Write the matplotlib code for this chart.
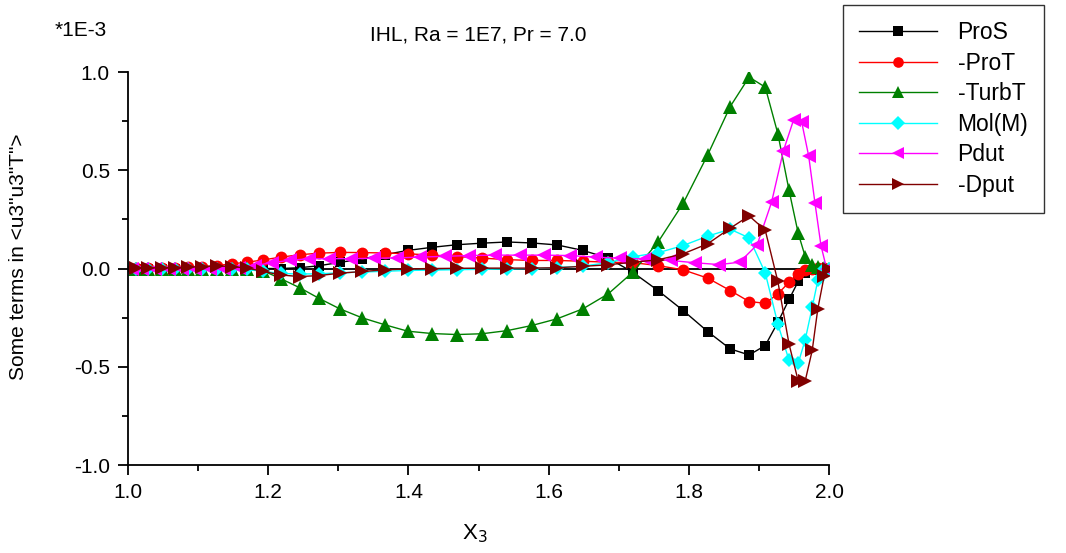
import numpy as np
import matplotlib.pyplot as plt

plt.rcParams['font.family'] = ['Liberation Sans', 'DejaVu Sans']

# grid points in x3 (cell centres), values are in units of 1E-3
x3 = [1.000, 1.011, 1.029, 1.049, 1.067, 1.086, 1.106, 1.127, 1.148, 1.170,
      1.193, 1.218, 1.245, 1.272, 1.302, 1.334, 1.367, 1.399, 1.434, 1.469,
      1.505, 1.541, 1.576, 1.612, 1.649, 1.685, 1.720, 1.756, 1.792, 1.827,
      1.859, 1.886, 1.909, 1.927, 1.943, 1.956, 1.966, 1.976, 1.984, 1.993,
      2.000]

# pressure term sits on the staggered (face) points
x3_face = [1.0055, 1.020, 1.039, 1.058, 1.0765, 1.096, 1.1165, 1.1375, 1.159, 1.1815,
           1.2055, 1.2315, 1.2585, 1.287, 1.318, 1.3505, 1.383, 1.4165, 1.4515, 1.487,
           1.523, 1.5585, 1.594, 1.6305, 1.667, 1.7025, 1.738, 1.774, 1.8095, 1.843,
           1.8725, 1.8975, 1.918, 1.935, 1.9495, 1.961, 1.971, 1.980, 1.9885, 1.9965]

pros = [0.0, 0.0, 0.0, 0.0, 0.0, 0.0, 0.0, 0.0, 0.0, 0.0,
        0.0, 0.0, 0.004, 0.014, 0.031, 0.049, 0.071, 0.092, 0.108, 0.121,
        0.129, 0.135, 0.130, 0.120, 0.092, 0.053, -0.019, -0.112, -0.214, -0.321,
        -0.409, -0.440, -0.392, -0.274, -0.157, -0.066, -0.024, -0.008, 0.0, 0.0,
        0.0]

prot = [0.0, 0.001, 0.002, 0.003, 0.004, 0.006, 0.009, 0.015, 0.024, 0.032,
        0.044, 0.058, 0.070, 0.078, 0.082, 0.081, 0.079, 0.075, 0.068, 0.061,
        0.053, 0.045, 0.041, 0.041, 0.037, 0.032, 0.030, 0.015, -0.007, -0.049,
        -0.112, -0.168, -0.177, -0.129, -0.070, -0.027, -0.007, 0.0, 0.003, 0.002,
        0.0]

turbt = [0.0, 0.0, 0.0, 0.0, 0.0, 0.0, 0.0, 0.0, 0.0, -0.002,
         -0.012, -0.052, -0.098, -0.151, -0.205, -0.251, -0.287, -0.319, -0.331, -0.336,
         -0.332, -0.316, -0.290, -0.256, -0.205, -0.129, -0.019, 0.134, 0.332, 0.579,
         0.824, 0.974, 0.923, 0.686, 0.397, 0.180, 0.061, 0.018, 0.007, 0.004,
         0.0]

mol = [0.0, 0.0, 0.0, 0.0, 0.0, 0.0, 0.0, 0.0, -0.002, -0.005,
       -0.015, -0.025, -0.028, -0.027, -0.022, -0.018, -0.014, -0.010, -0.008, -0.006,
       -0.004, -0.002, 0.0, 0.005, 0.012, 0.030, 0.060, 0.080, 0.117, 0.165,
       0.200, 0.156, -0.022, -0.282, -0.468, -0.482, -0.363, -0.197, -0.061, 0.0,
       0.0]

pdut = [0.0, 0.0, 0.0, 0.0, 0.0, -0.002, -0.003, 0.0, 0.005, 0.015,
        0.030, 0.042, 0.050, 0.050, 0.050, 0.052, 0.054, 0.058, 0.062, 0.066,
        0.068, 0.068, 0.068, 0.066, 0.058, 0.052, 0.049, 0.041, 0.029, 0.020,
        0.032, 0.121, 0.337, 0.600, 0.757, 0.745, 0.572, 0.332, 0.117, 0.0]

dput = [0.0, 0.002, 0.003, 0.004, 0.005, 0.007, 0.010, 0.013, 0.010, 0.002,
        -0.015, -0.033, -0.041, -0.036, -0.024, -0.015, -0.007, -0.002, 0.0, 0.001,
        0.002, 0.002, 0.002, 0.004, 0.011, 0.019, 0.032, 0.044, 0.075, 0.126,
        0.205, 0.268, 0.195, -0.066, -0.385, -0.572, -0.572, -0.417, -0.205, -0.040,
        0.0]

fig = plt.figure(figsize=(10.66, 5.53), dpi=100)
ax = fig.add_axes([0.1201, 0.1591, 0.6576, 0.7107])

# zero line
ax.axhline(0, color='black', lw=1.3, zorder=1)

series = [
    (x3, pros, 'ProS', 'black', 's', 7.5),
    (x3, prot, '-ProT', 'red', 'o', 8.5),
    (x3, turbt, '-TurbT', 'green', '^', 10),
    (x3, mol, 'Mol(M)', 'cyan', 'D', 7.5),
    (x3_face, pdut, 'Pdut', 'magenta', '<', 10),
    (x3, dput, '-Dput', '#800000', '>', 10),
]
for xs, ys, lab, col, mk, ms in series:
    ax.plot(xs, ys, color=col, lw=1, marker=mk, markersize=ms,
            markeredgewidth=0, label=lab, zorder=2)

ax.set_xlim(1.0, 2.0)
ax.set_ylim(-1.0, 1.0)
ax.set_xticks([1.0, 1.2, 1.4, 1.6, 1.8, 2.0])
ax.set_xticks(np.arange(1.1, 2.0, 0.2), minor=True)
ax.set_yticks([-1.0, -0.5, 0.0, 0.5, 1.0])
ax.set_yticks([-0.75, -0.25, 0.25, 0.75], minor=True)
ax.xaxis.set_major_formatter(plt.FormatStrFormatter('%.1f'))
ax.yaxis.set_major_formatter(plt.FormatStrFormatter('%.1f'))
ax.tick_params(which='major', direction='out', length=7, width=1.3, labelsize=15, pad=6)
ax.tick_params(which='minor', direction='out', length=4, width=1.3)

for side in ['top', 'right']:
    ax.spines[side].set_visible(False)
for side in ['left', 'bottom']:
    ax.spines[side].set_linewidth(1.3)

ax.set_xlabel(r'X$_{3}$', fontsize=16)
ax.xaxis.set_label_coords(0.495, -0.145)
ax.set_ylabel('Some terms in <u3"u3"T">', fontsize=15)
ax.yaxis.set_label_coords(-0.143, 0.53)

fig.text(478 / 1066, 1 - 35 / 553, 'IHL, Ra = 1E7, Pr = 7.0',
         ha='center', va='center', fontsize=15)
fig.text(55 / 1066, 1 - 30 / 553, '*1E-3', ha='left', va='center', fontsize=15)

leg = fig.legend(loc='upper left', bbox_to_anchor=(843 / 1066, 1 - 5 / 553),
                 fontsize=16.5, frameon=True, fancybox=False, edgecolor='black',
                 handlelength=3.4, handletextpad=0.9, labelspacing=0.33,
                 borderpad=0.7, borderaxespad=0, markerscale=0.9)
leg.get_frame().set_linewidth(1.0)

fig.savefig('out.png', dpi=100)
